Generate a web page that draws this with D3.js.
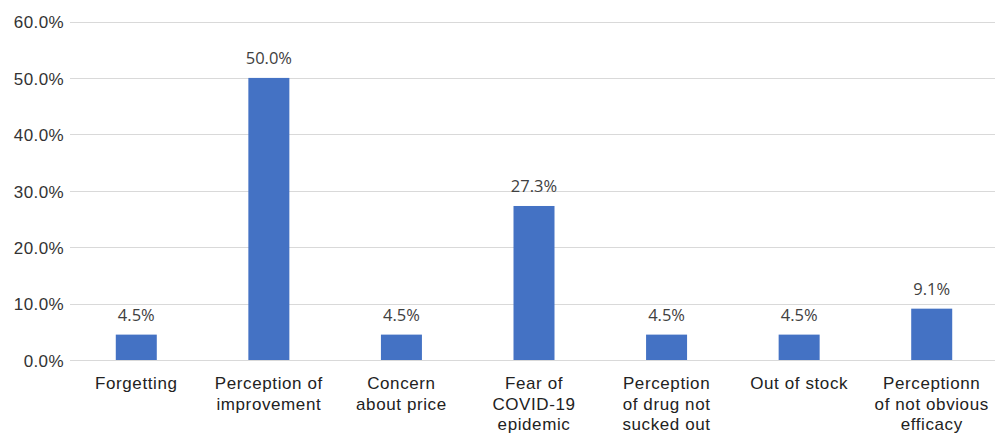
<!DOCTYPE html>
<html>
<head>
<meta charset="utf-8">
<script src="https://cdn.jsdelivr.net/npm/d3@7"></script>
<style>
  body { margin: 0; background: #fff; }
  svg { display: block; }
</style>
</head>
<body>
<div id="chart"></div>
<script>
const categories = [
  ['Forgetting'],
  ['Perception of', 'improvement'],
  ['Concern', 'about price'],
  ['Fear of', 'COVID-19', 'epidemic'],
  ['Perception', 'of drug not', 'sucked out'],
  ['Out of stock'],
  ['Perceptionn', 'of not obvious', 'efficacy']
];
const values = [4.5, 50.0, 4.5, 27.3, 4.5, 4.5, 9.1];
const yTicks = [0, 10, 20, 30, 40, 50, 60];

const width = 995, height = 434;
const margin = { top: 21.5, right: 0, bottom: 74, left: 70 };

const svg = d3.select('#chart').append('svg')
  .attr('width', width)
  .attr('height', height);

const x = d3.scaleBand()
  .domain(d3.range(categories.length))
  .range([margin.left, 998]);

const y = d3.scaleLinear()
  .domain([0, 60])
  .range([height - margin.bottom, margin.top]);

const barW = 41;

// gridlines
svg.append('g')
  .selectAll('line')
  .data(yTicks)
  .join('line')
  .attr('x1', margin.left)
  .attr('x2', width)
  .attr('y1', d => Math.round(y(d)) + 0.5)
  .attr('y2', d => Math.round(y(d)) + 0.5)
  .attr('stroke', '#d9d9d9')
  .attr('stroke-width', 1.2);

// y labels
svg.append('g')
  .selectAll('text')
  .data(yTicks)
  .join('text')
  .attr('x', 64)
  .attr('y', d => y(d))
  .attr('dy', '0.4em')
  .attr('text-anchor', 'end')
  .attr('font-family', 'Liberation Sans, Arial, sans-serif')
  .attr('font-size', 17)
  .attr('letter-spacing', 0.4)
  .attr('fill', '#333')
  .text(d => d.toFixed(1) + '%');

// bars
svg.append('g')
  .selectAll('rect')
  .data(values)
  .join('rect')
  .attr('x', (d, i) => x(i) + x.bandwidth() / 2 - barW / 2)
  .attr('y', d => y(d))
  .attr('width', barW)
  .attr('height', d => y(0) - y(d))
  .attr('fill', '#4472c4');

// value labels
svg.append('g')
  .selectAll('text')
  .data(values)
  .join('text')
  .attr('x', (d, i) => x(i) + x.bandwidth() / 2)
  .attr('y', d => y(d) - 14)
  .attr('text-anchor', 'middle')
  .attr('font-family', 'Open Sans, Noto Sans, sans-serif')
  .attr('font-size', 16.5)
  .attr('fill', '#404040')
  .text(d => d.toFixed(1) + '%');

// category labels
const cat = svg.append('g')
  .selectAll('text')
  .data(categories)
  .join('text')
  .attr('x', (d, i) => x(i) + x.bandwidth() / 2)
  .attr('y', 389)
  .attr('text-anchor', 'middle')
  .attr('font-family', 'Liberation Sans, Arial, sans-serif')
  .attr('font-size', 17)
  .attr('letter-spacing', 0.6)
  .attr('fill', '#222');

cat.selectAll('tspan')
  .data((d, i) => d.map(t => ({ t, i })))
  .join('tspan')
  .attr('x', d => x(d.i) + x.bandwidth() / 2)
  .attr('dy', (d, j) => j === 0 ? 0 : 20.5)
  .text(d => d.t);
</script>
</body>
</html>
